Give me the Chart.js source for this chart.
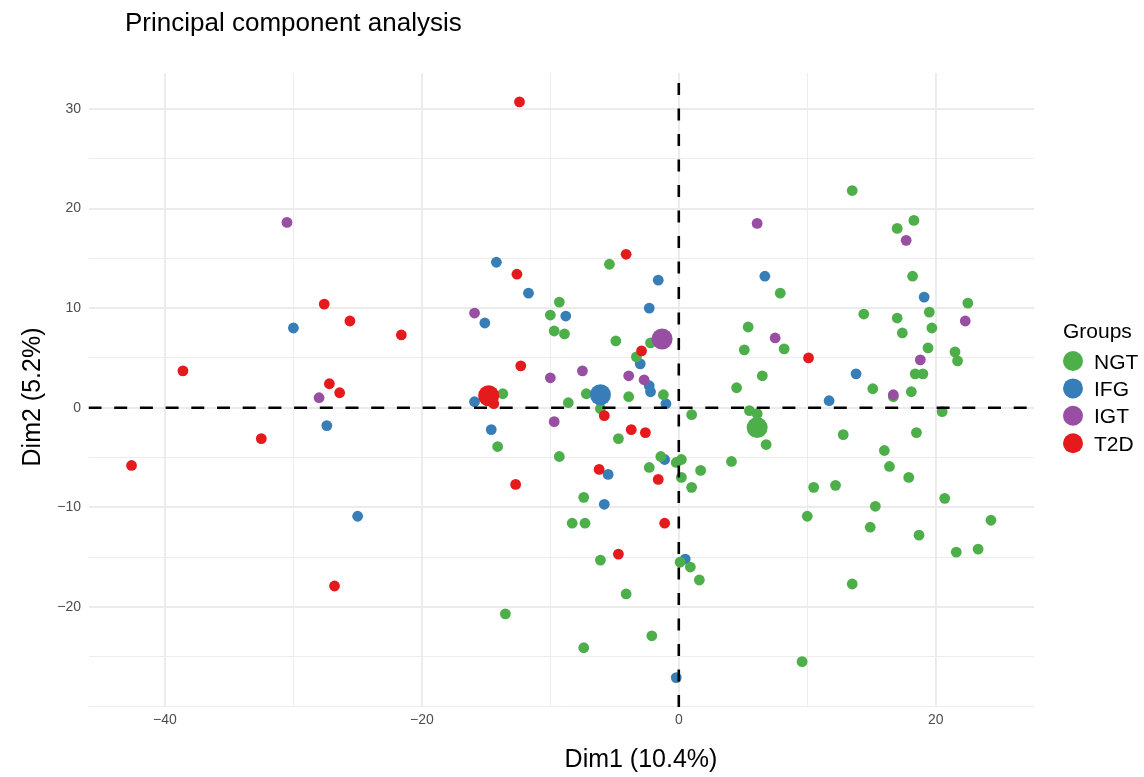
<!DOCTYPE html>
<html>
<head>
<meta charset="utf-8">
<script src="https://cdn.jsdelivr.net/npm/chart.js"></script>
<style>
  html, body { margin: 0; padding: 0; background: #fff; }
  #wrap { position: relative; width: 1144px; height: 777px; }
</style>
</head>
<body>
<div id="wrap"><canvas id="pca" width="1144" height="777"></canvas></div>
<script>
// groups and colours (legend order)
const groups = ['NGT', 'IFG', 'IGT', 'T2D'];
const groupColors = ['#4DAF4A', '#377EB8', '#984EA3', '#E41A1C'];

// individuals, [Dim1, Dim2]
const ngt = [
  [-5.4,14.4],[13.5,21.8],[18.3,18.8],[17.0,18.0],[18.2,13.2],[7.9,11.5],[-9.3,10.6],[-10.0,9.3],
  [-9.7,7.7],[-8.9,7.4],[-4.9,6.7],[-2.2,6.5],[-3.3,5.1],[-1.2,1.3],[-13.7,1.4],[-8.6,0.5],
  [-7.2,1.4],[-3.9,1.1],[-6.1,-0.1],[1.0,-0.7],[-4.7,-3.1],[-14.1,-3.9],[-9.3,-4.9],[-1.4,-4.9],
  [-0.2,-5.5],[0.2,-5.2],[4.1,-5.4],[1.7,-6.3],[-2.3,-6.0],[0.2,-7.0],[1.0,-8.0],[-7.4,-9.0],
  [22.5,10.5],[14.4,9.4],[17.0,9.0],[19.5,9.6],[19.7,8.0],[17.4,7.5],[5.4,8.1],[5.1,5.8],
  [8.2,5.9],[19.4,6.0],[21.5,5.6],[21.7,4.7],[6.5,3.2],[18.4,3.4],[19.0,3.4],[4.5,2.0],
  [15.1,1.9],[18.1,1.6],[16.7,1.1],[5.5,-0.3],[6.1,-0.6],[6.8,-3.7],[20.5,-0.4],[12.8,-2.7],
  [18.5,-2.5],[16.0,-4.3],[16.4,-5.9],[17.9,-7.0],[10.5,-8.0],[12.2,-7.8],[20.7,-9.1],[15.3,-9.9],
  [10.0,-10.9],[-8.3,-11.6],[-7.3,-11.6],[-6.1,-15.3],[0.1,-15.5],[0.9,-16.0],[1.6,-17.3],[-4.1,-18.7],
  [-13.5,-20.7],[-2.1,-22.9],[-7.4,-24.1],[14.9,-12.0],[18.7,-12.8],[24.3,-11.3],[23.3,-14.2],[21.6,-14.5],
  [13.5,-17.7],[9.6,-25.5]
];
const ifg = [
  [-14.2,14.6],[-11.7,11.5],[-1.6,12.8],[6.7,13.2],[19.1,11.1],[-30.0,8.0],[-27.4,-1.8],[-25.0,-10.9],
  [-8.8,9.2],[-15.1,8.5],[-2.3,10.0],[-3.0,4.4],[-2.3,2.2],[-2.2,1.6],[-1.0,0.4],[-15.9,0.6],
  [-14.6,-2.2],[-1.1,-5.2],[-5.5,-6.7],[-5.8,-9.7],[13.8,3.4],[11.7,0.7],[0.5,-15.2],[-0.2,-27.1]
];
const igt = [
  [-30.5,18.6],[6.1,18.5],[17.7,16.8],[-28.0,1.0],[-15.9,9.5],[-7.5,3.7],[-10.0,3.0],[-3.9,3.2],
  [-2.7,2.8],[-9.7,-1.4],[22.3,8.7],[7.5,7.0],[18.8,4.8],[16.7,1.3]
];
const t2d = [
  [-12.4,30.7],[-12.6,13.4],[-4.1,15.4],[-27.6,10.4],[-25.6,8.7],[-21.6,7.3],[-38.6,3.7],[-27.2,2.4],
  [-26.4,1.5],[-32.5,-3.1],[-42.6,-5.8],[-26.8,-17.9],[-2.9,5.7],[-12.3,4.2],[-14.4,0.4],[-5.8,-0.8],
  [-3.7,-2.2],[-2.6,-2.5],[-6.2,-6.2],[-1.6,-7.2],[-12.7,-7.7],[-1.1,-11.6],[-4.7,-14.7],[10.1,5.0]
];
// group centres (big dots), same order as groups
const groupMeans = [[6.1,-2.0],[-6.1,1.3],[-1.3,6.9],[-14.8,1.2]];

const xRange = [-45.95, 27.65];
const yRange = [-30.05, 33.6];
const xLabelled = [-40, -20, 0, 20];
const yLabelled = [-20, -10, 0, 10, 20, 30];

const plotTitle = 'Principal component analysis';
const xTitle = 'Dim1 (10.4%)';
const yTitle = 'Dim2 (5.2%)';
const legendTitle = 'Groups';

const toXY = a => a.map(p => ({ x: p[0], y: p[1] }));
const individuals = [ngt, ifg, igt, t2d];
const fmt = v => (v < 0 ? '\u2212' + Math.abs(v) : String(v));
const FONT = '"Liberation Sans", Arial, sans-serif';

const datasets = [];
// axes through the origin, on top of everything
datasets.push({
  type: 'line', data: [{ x: 0, y: yRange[0] }, { x: 0, y: yRange[1] }],
  borderColor: '#000', borderWidth: 2.6, borderDash: [12, 13.5], pointRadius: 0, order: 0
});
datasets.push({
  type: 'line', data: [{ x: xRange[0], y: 0 }, { x: xRange[1], y: 0 }],
  borderColor: '#000', borderWidth: 2.6, borderDash: [13, 12.7], pointRadius: 0, order: 0
});
groupMeans.forEach((m, i) => {
  datasets.push({
    label: groups[i] + ' mean', data: toXY([m]),
    backgroundColor: groupColors[i], borderWidth: 0, pointRadius: 10.5, order: 1
  });
});
// small points; drawing order roughly as in the picture
[1, 0, 2, 3].forEach((gi, k) => {
  datasets.push({
    label: groups[gi], data: toXY(individuals[gi]),
    backgroundColor: groupColors[gi], borderWidth: 0, pointRadius: 5.4, order: 5 - k
  });
});

const textPlugin = {
  id: 'texts',
  afterDraw(chart) {
    const c = chart.ctx;
    c.save();
    c.fillStyle = '#000';
    c.textBaseline = 'alphabetic';
    c.textAlign = 'left';
    c.font = '26px ' + FONT;
    c.fillText(plotTitle, 125, 31);

    c.font = '25px ' + FONT;
    c.textAlign = 'center';
    c.fillText(xTitle, 641, 767);
    c.save();
    c.translate(40, 397);
    c.rotate(-Math.PI / 2);
    c.fillText(yTitle, 0, 0);
    c.restore();

    // legend
    c.textAlign = 'left';
    c.font = '21px ' + FONT;
    c.fillText(legendTitle, 1063, 338);
    groups.forEach((g, i) => {
      const cy = 361 + i * 27.4;
      c.fillStyle = groupColors[i];
      c.beginPath();
      c.arc(1073, cy, 10, 0, Math.PI * 2);
      c.fill();
      c.fillStyle = '#000';
      c.fillText(g, 1094, cy + 7.5);
    });
    c.restore();
  }
};

new Chart(document.getElementById('pca'), {
  type: 'scatter',
  data: { datasets: datasets },
  options: {
    responsive: false,
    animation: false,
    events: [],
    layout: { padding: { left: 0, right: 110, top: 73, bottom: 0 } },
    plugins: { legend: { display: false }, tooltip: { enabled: false }, title: { display: false } },
    scales: {
      x: {
        type: 'linear', min: xRange[0], max: xRange[1],
        afterFit: s => { s.height = 70; },
        border: { display: false },
        grid: {
          drawTicks: false, color: '#EBEBEB',
          lineWidth: ctx => xLabelled.includes(ctx.tick && ctx.tick.value) ? 1.9 : 0.9
        },
        ticks: {
          stepSize: 10, includeBounds: false, padding: 5, color: '#4D4D4D',
          font: { family: FONT, size: 14 },
          callback: v => xLabelled.includes(v) ? fmt(v) : ''
        }
      },
      y: {
        type: 'linear', min: yRange[0], max: yRange[1],
        afterFit: s => { s.width = 88.5; },
        border: { display: false },
        grid: {
          drawTicks: false, color: '#EBEBEB',
          lineWidth: ctx => yLabelled.includes(ctx.tick && ctx.tick.value) ? 1.9 : 0.9
        },
        ticks: {
          stepSize: 5, includeBounds: false, padding: 7.5, color: '#4D4D4D',
          font: { family: FONT, size: 14 },
          callback: v => yLabelled.includes(v) ? fmt(v) : ''
        }
      }
    }
  },
  plugins: [textPlugin]
});
</script>
</body>
</html>
